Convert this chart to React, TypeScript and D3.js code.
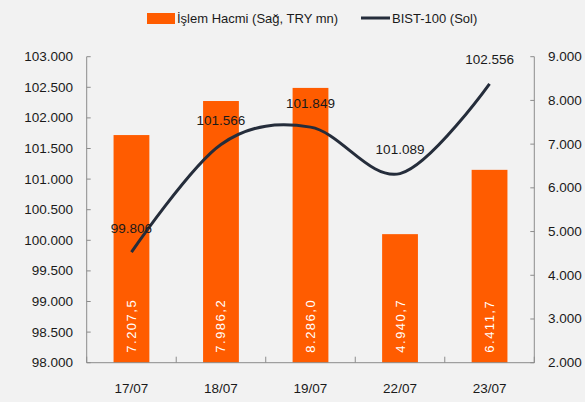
import * as d3 from "d3";

const dates = ["17/07", "18/07", "19/07", "22/07", "23/07"];
const volume = [7207.5, 7986.2, 8286.0, 4940.7, 6411.7];
const bist = [99806, 101566, 101849, 101089, 102556];
const leftTicks = [98000, 98500, 99000, 99500, 100000, 100500, 101000, 101500, 102000, 102500, 103000];
const rightTicks = [2000, 3000, 4000, 5000, 6000, 7000, 8000, 9000];

const W = 585;
const H = 402;
const plot = { left: 86.7, right: 534.3, top: 56.7, bottom: 362.7 };
const font = "'Liberation Sans', Arial, sans-serif";
const orange = "#ff5c00";
const navy = "#252d3b";
const axisGray = "#8c8c8c";
const ink = "#1a1a1a";

const tr = d3.formatLocale({ decimal: ",", thousands: ".", grouping: [3], currency: ["", ""] });
const fmtInt = tr.format(",d");
const fmtDec = tr.format(",.1f");

export default function App() {
  const x = d3.scaleBand().domain(dates).range([plot.left, plot.right]).paddingInner(0.6).paddingOuter(0.3);
  const yL = d3.scaleLinear().domain([98000, 103000]).range([plot.bottom, plot.top]);
  const yR = d3.scaleLinear().domain([2000, 9000]).range([plot.bottom, plot.top]);
  const step = x.step();
  const cx = (d: string) => (x(d) ?? 0) + x.bandwidth() / 2;

  // smoothed line like the spreadsheet's "smoothed line" option
  const line = d3
    .line<number>()
    .x((_, i) => cx(dates[i]))
    .y((v) => yL(v))
    .curve(d3.curveCardinal);

  const boundaries = dates.map((d) => (x(d) ?? 0) - step * 0.3).concat([plot.right]);

  return (
    <svg width={W} height={H} style={{ position: "absolute", left: 0, top: 0, display: "block" }} fontFamily={font}>
      <rect width={W} height={H} fill="#f2f2f2" />

      {/* legend */}
      <rect x={147} y={13} width={28} height={11} fill={orange} />
      <text x={177} y={18.5} dominantBaseline="central" fontSize={13} fill={ink}>
        İşlem Hacmi (Sağ, TRY mn)
      </text>
      <line x1={361} x2={390} y1={18} y2={18} stroke={navy} strokeWidth={3} />
      <text x={392} y={18.5} dominantBaseline="central" fontSize={13} fill={ink}>
        BIST-100 (Sol)
      </text>

      {/* bars */}
      {dates.map((d, i) => (
        <rect
          key={d}
          x={x(d)}
          y={yR(volume[i])}
          width={x.bandwidth()}
          height={plot.bottom - yR(volume[i])}
          fill={orange}
        />
      ))}
      {dates.map((d, i) => (
        <text
          key={"v" + d}
          transform={`translate(${cx(d)},${plot.bottom - 10}) rotate(-90)`}
          dominantBaseline="central"
          fontSize={13}
          letterSpacing={1.5}
          fill="#ffffff"
        >
          {fmtDec(volume[i])}
        </text>
      ))}

      {/* axes */}
      <line x1={plot.left} x2={plot.left} y1={plot.top} y2={plot.bottom} stroke={axisGray} />
      <line x1={plot.right} x2={plot.right} y1={plot.top} y2={plot.bottom} stroke={axisGray} />
      <line x1={plot.left} x2={plot.right} y1={plot.bottom} y2={plot.bottom} stroke={axisGray} />
      {leftTicks.map((t) => (
        <g key={"l" + t}>
          <line x1={plot.left} x2={plot.left + 4} y1={yL(t)} y2={yL(t)} stroke={axisGray} />
          <text x={73} y={yL(t)} textAnchor="end" dominantBaseline="central" fontSize={13.5} fill={ink}>
            {fmtInt(t)}
          </text>
        </g>
      ))}
      {rightTicks.map((t) => (
        <g key={"r" + t}>
          <line x1={plot.right - 4} x2={plot.right} y1={yR(t)} y2={yR(t)} stroke={axisGray} />
          <text x={548} y={yR(t)} dominantBaseline="central" fontSize={13.5} fill={ink}>
            {fmtInt(t)}
          </text>
        </g>
      ))}
      {boundaries.map((b, i) => (
        <line key={"b" + i} x1={b} x2={b} y1={plot.bottom - 6} y2={plot.bottom} stroke={axisGray} />
      ))}
      {dates.map((d) => (
        <text key={"x" + d} x={cx(d)} y={388} textAnchor="middle" dominantBaseline="central" fontSize={13.5} fill={ink}>
          {d}
        </text>
      ))}

      {/* line */}
      <path d={line(bist) ?? ""} fill="none" stroke={navy} strokeWidth={3} />
      {dates.map((d, i) => (
        <text
          key={"t" + d}
          x={cx(d)}
          y={yL(bist[i]) - 24}
          textAnchor="middle"
          dominantBaseline="central"
          fontSize={13.5}
          fill={ink}
        >
          {fmtInt(bist[i])}
        </text>
      ))}
    </svg>
  );
}
